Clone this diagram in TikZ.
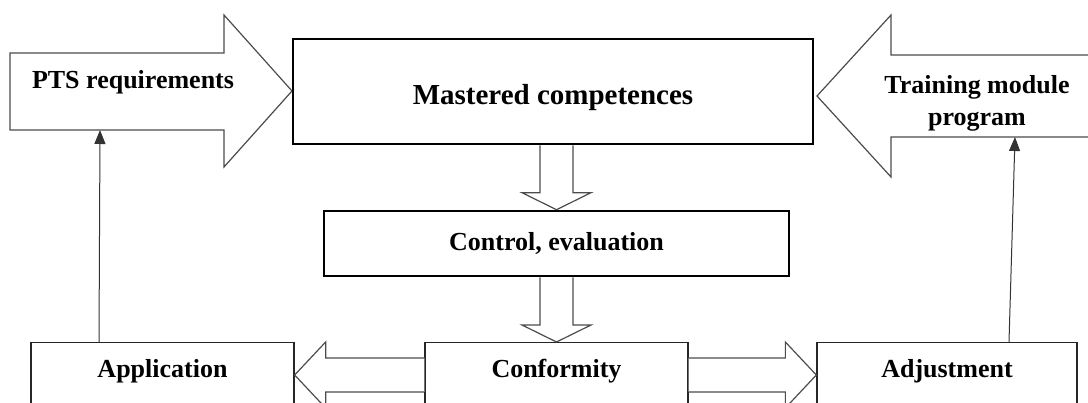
\documentclass[tikz,border=0pt]{standalone}
\usepackage{fontspec}
\setmainfont{Liberation Serif}
\usetikzlibrary{arrows.meta,calc}

\newcommand\boxfont{\bfseries\fontsize{26}{32}\selectfont}

\tikzset{
    blockarrow/.style={draw=black!70, line width=1.2pt, fill=white, line join=miter},
    heavybox/.style={draw=black, line width=2.6pt, fill=white, font=\boxfont},
    lightbox/.style={draw=black!85, line width=1.3pt, fill=white, anchor=north,
        minimum width=263pt, inner ysep=8pt, text height=27pt, text depth=30pt, font=\boxfont},
    arrowtext/.style={font=\boxfont, align=center},
    feedback/.style={draw=black!80, line width=1pt, -{Triangle[length=14pt,width=11pt]}}
}

\begin{document}
\begin{tikzpicture}[x=1pt,y=-1pt]
    \useasboundingbox (0,0) rectangle (1088,403);
    \clip (0,0) rectangle (1088,403);
    % big input arrows
    \draw[blockarrow] (10,53) -- (224,53) -- (224,15) -- (292,91) -- (224,167) -- (224,130) -- (10,130) -- cycle;
    \node[arrowtext, anchor=base] (pts) at (133,89) {PTS requirements};
    \coordinate (ptsfoot) at (100,130);
    \draw[blockarrow] (1095,55) -- (891,55) -- (891,15) -- (817,96) -- (891,177) -- (891,137) -- (1095,137) -- cycle;
    \node[arrowtext] (tmp) at (977,103) {Training module\\program};
    \coordinate (tmpfoot) at (1015,137);
    % boxes
    \node[heavybox, minimum width=520pt, minimum height=105pt, text height=29pt, text depth=3pt,
        font=\bfseries\fontsize{29}{34}\selectfont] (mastered) at (553,91.5) {Mastered competences};
    \node[heavybox, minimum width=465pt, minimum height=65pt] (control) at (556.5,243.5) {Control, evaluation};
    \node[lightbox] (app) at (162.5,342) {Application};
    \node[lightbox] (conf) at (556.5,342) {Conformity};
    \node[lightbox, minimum width=260pt] (adj) at (947,342) {Adjustment};
    % down block arrows
    \foreach \from/\to in {mastered/control, control/conf}{% shaft hangs from the upper box
        \path (\to.north) ++(-16.5,-17) coordinate (sl) ++(33,0) coordinate (sr);
        \draw[blockarrow] (sl |- \from.south) -- (sl) -- ++(-18,0) -- (\to.north) -- ++(34.5,-17) -- ++(-18,0) -- (sr |- \from.south);
    }
    % side block arrows
    \foreach \tip/\tail/\dir in {app.north east/conf.north west/1, adj.north west/conf.north east/-1}{% out of conformity
        \draw[blockarrow] ($(\tail)+(0,16)$) -- ($(\tip)+(31*\dir,16)$) -- ($(\tip)+(31*\dir,0)$) -- ($(\tip)+(0,33)$)
            -- ($(\tip)+(31*\dir,66)$) -- ($(\tip)+(31*\dir,50)$) -- ($(\tail)+(0,50)$);
    }
    % feedback lines
    \draw[feedback] ($(app.north)+(-63.5,0)$) -- (ptsfoot);
    \draw[feedback] ($(adj.north)+(62,0)$) -- (tmpfoot);
\end{tikzpicture}
\end{document}
